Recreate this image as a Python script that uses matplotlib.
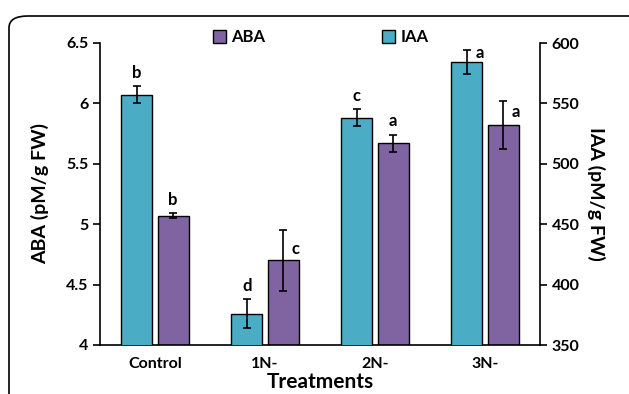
import matplotlib
matplotlib.use("Agg")
import matplotlib.pyplot as plt
from matplotlib.patches import FancyBboxPatch, Patch
import numpy as np

plt.rcParams['font.family'] = ['Lato', 'DejaVu Sans']
plt.rcParams['font.weight'] = 'bold'

categories = ["Control", "1N-", "2N-", "3N-"]
iaa = [557, 376, 538, 584]
iaa_err = [7, 12, 7, 10]
aba = [5.07, 4.70, 5.67, 5.82]
aba_err = [0.02, 0.25, 0.07, 0.20]
iaa_letters = ["b", "d", "c", "a"]
aba_letters = ["b", "c", "a", "a"]

teal = "#4BACC6"
purple = "#8064A2"

fig = plt.figure(figsize=(6.29, 3.94), dpi=100)
W, H = 629, 394
frame = FancyBboxPatch((9 / W, -0.2), 1.1, 1 - 16 / H + 0.2,
                       boxstyle="round,pad=0,rounding_size=0.03",
                       transform=fig.transFigure, fill=False, ec="black", lw=1.2)
fig.patches.append(frame)

ax = fig.add_axes([100 / W, 1 - 345 / H, 440 / W, 302 / H])
ax2 = ax.twinx()
x = np.arange(len(categories))
w = 0.28
off = 0.165

ax2.bar(x - off, iaa, w, color=teal, edgecolor="black", lw=1.0,
        yerr=iaa_err, capsize=3, error_kw=dict(elinewidth=1.2, capthick=1.2, ecolor="black"))
ax.bar(x + off, aba, w, color=purple, edgecolor="black", lw=1.0,
       yerr=aba_err, capsize=3, error_kw=dict(elinewidth=1.2, capthick=1.2, ecolor="black"))

ax.set_ylim(4, 6.5)
ax2.set_ylim(350, 600)
ax.set_xlim(-0.5, 3.5)
ax.set_yticks([4, 4.5, 5, 5.5, 6, 6.5])
ax.set_yticklabels(["4", "4.5", "5", "5.5", "6", "6.5"])
ax2.set_yticks([350, 400, 450, 500, 550, 600])
ax.set_xticks(x)
ax.set_xticklabels(categories)
ax.tick_params(axis='x', length=0, pad=9, labelsize=11.5)
ax.tick_params(axis='y', length=5, width=1.2, labelsize=11.5)
ax2.tick_params(axis='y', length=5, width=1.2, labelsize=11.5)
for a in (ax, ax2):
    a.spines['top'].set_visible(False)
    for s in ('left', 'right', 'bottom'):
        a.spines[s].set_linewidth(1.2)
ax.spines['right'].set_visible(False)
ax2.spines['left'].set_visible(False)
ax2.spines['bottom'].set_visible(False)

ax.set_ylabel("ABA (pM/g FW)", fontsize=14, fontweight='bold', labelpad=12)
ax2.set_ylabel("IAA (pM/g FW)", fontsize=14, fontweight='bold', rotation=270, labelpad=18)
ax.set_xlabel("Treatments", fontsize=15, fontweight='bold', labelpad=0)

# significance letters: (x offset in data units, y offset in points) relative to error-bar top
iaa_pos = [(0, 4), (0, 4), (0, 4), (0.08, -8)]
for i in range(4):
    dx, dy = iaa_pos[i]
    ax2.annotate(iaa_letters[i], (x[i] - off + dx, iaa[i] + iaa_err[i]),
                 xytext=(0, dy), textcoords="offset points",
                 ha="center" if dx == 0 else "left", va="bottom", fontsize=12, fontweight='bold')
aba_pos = [(0, 4), (0.08, -19), (0, 4), (0.08, -14)]
for i in range(4):
    dx, dy = aba_pos[i]
    ax.annotate(aba_letters[i], (x[i] + off + dx, aba[i] + aba_err[i]),
                xytext=(0, dy), textcoords="offset points",
                ha="center" if dx == 0 else "left", va="bottom", fontsize=12, fontweight='bold')

handles = [Patch(facecolor=purple, edgecolor="black", label="ABA"),
           Patch(facecolor=teal, edgecolor="black", label="IAA")]
fig.legend(handles=handles, loc="center", bbox_to_anchor=(0.51, 1 - 37 / H), ncol=2,
           frameon=False, columnspacing=7.0, handlelength=0.8, handleheight=0.8,
           handletextpad=0.3, prop=dict(size=12, weight='bold'))

fig.savefig("out.png", dpi=100)
